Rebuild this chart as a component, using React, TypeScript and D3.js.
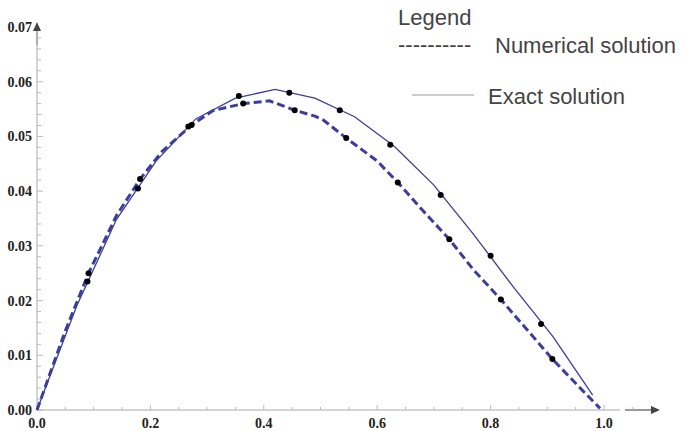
import * as d3 from 'd3';

const W = 687;
const H = 431;

// exact solution, polyline vertices
const exactX = [0, 0.07, 0.14, 0.21, 0.28, 0.35, 0.42, 0.49, 0.56, 0.63, 0.70, 0.77, 0.84, 0.91, 0.98];
const exactY = [0, 0.019, 0.0348, 0.0455, 0.0532, 0.0570, 0.0586, 0.0570, 0.0536, 0.0482, 0.0411, 0.0321, 0.0225, 0.0134, 0.0027];

// numerical solution, polyline vertices
const numX = [0, 0.05, 0.0909, 0.14, 0.1818, 0.22, 0.2727, 0.31, 0.3636, 0.41, 0.4545, 0.49, 0.505, 0.5454, 0.60, 0.6363, 0.68, 0.7272, 0.77, 0.8181, 0.87, 0.909, 0.96, 0.993];
const numY = [0, 0.0145, 0.025, 0.0355, 0.0422, 0.0472, 0.0521, 0.0547, 0.056, 0.0565, 0.0548, 0.0537, 0.053, 0.0497, 0.0455, 0.0416, 0.0365, 0.0312, 0.0256, 0.0202, 0.014, 0.0093, 0.0038, 0.0003];

// sample dots
const exactDotX = [0.089, 0.178, 0.267, 0.356, 0.445, 0.534, 0.623, 0.712, 0.8, 0.889];
const exactDotY = [0.0235, 0.0405, 0.0518, 0.0574, 0.058, 0.0548, 0.0485, 0.0393, 0.0282, 0.0157];
const numDotX = [0.0909, 0.1818, 0.2727, 0.3636, 0.4545, 0.5454, 0.6363, 0.7272, 0.8181, 0.909];
const numDotY = [0.025, 0.0422, 0.0521, 0.056, 0.0548, 0.0497, 0.0416, 0.0312, 0.0202, 0.0093];

const xTickLabels = ['0.0', '0.2', '0.4', '0.6', '0.8', '1.0'];
const yTickLabels = ['0.00', '0.01', '0.02', '0.03', '0.04', '0.05', '0.06', '0.07'];

const BLUE = '#3d3d9c';

const x = d3.scaleLinear().domain([0, 1]).range([37, 604]);
const y = d3.scaleLinear().domain([0, 0.07]).range([410, 27]);

const line = d3.line<[number, number]>().x(d => x(d[0])).y(d => y(d[1]));

export default function App() {
  const exactPts = exactX.map((v, i) => [v, exactY[i]] as [number, number]);
  const numPts = numX.map((v, i) => [v, numY[i]] as [number, number]);
  const xMinor = d3.range(0, 21.5).map(i => i * 0.05);
  const yMinor = d3.range(0, 34.5).map(i => i * 0.002);

  return (
    <svg width={W} height={H} style={{ position: 'absolute', left: 0, top: 0, background: '#fff' }}>
      {/* axes */}
      <line x1={x(0)} x2={620} y1={y(0)} y2={y(0)} stroke="#aaa" strokeWidth={1} />
      <line x1={625} x2={654} y1={y(0)} y2={y(0)} stroke="#555" strokeWidth={1.2} />
      <path d={`M660,${y(0)} L651,${y(0) - 4} L651,${y(0) + 4} Z`} fill="#444" />
      <line x1={x(0)} x2={x(0)} y1={y(0)} y2={45} stroke="#aaa" strokeWidth={1} />
      <line x1={x(0)} x2={x(0)} y1={45} y2={28} stroke="#777" strokeWidth={1.2} />
      <path d={`M${x(0)},22 L${x(0) - 4},31 L${x(0) + 4},31 Z`} fill="#444" />

      {xMinor.map((v, i) => (
        <line key={'xt' + i} x1={x(v)} x2={x(v)} y1={y(0)} y2={y(0) - (i % 4 === 0 ? 5 : 3)} stroke="#bbb" />
      ))}
      {yMinor.map((v, i) => (
        <line key={'yt' + i} x1={x(0)} x2={x(0) + (i % 5 === 0 ? 6 : 4)} y1={y(v)} y2={y(v)} stroke="#bbb" />
      ))}

      {xTickLabels.map(t => (
        <text key={t} x={x(+t)} y={428} textAnchor="middle" fontFamily="'Liberation Serif', serif" fontWeight="bold" fontSize={14} fill="#222">{t}</text>
      ))}
      {yTickLabels.map(t => (
        <text key={t} x={32} y={y(+t) + 5} textAnchor="end" fontFamily="'Liberation Serif', serif" fontWeight="bold" fontSize={14} fill="#222">{t}</text>
      ))}

      {/* curves */}
      <path d={line(exactPts) || ''} fill="none" stroke={BLUE} strokeWidth={1.3} />
      <path d={line(numPts) || ''} fill="none" stroke={BLUE} strokeWidth={3} strokeDasharray="8,4" />

      {exactDotX.map((v, i) => (
        <circle key={'ed' + i} cx={x(v)} cy={y(exactDotY[i])} r={3} fill="#000" />
      ))}
      {numDotX.map((v, i) => (
        <circle key={'nd' + i} cx={x(v)} cy={y(numDotY[i])} r={3} fill="#000" />
      ))}

      {/* legend */}
      <g fontFamily="'Liberation Sans', Arial, sans-serif" fontSize={22} fill="#444">
        <text x={398} y={25}>Legend</text>
        <text x={398} y={52}>----------</text>
        <text x={495} y={53}>Numerical solution</text>
        <line x1={412} x2={474} y1={95} y2={95} stroke="#999" strokeWidth={1} />
        <text x={488} y={104}>Exact solution</text>
      </g>
    </svg>
  );
}
